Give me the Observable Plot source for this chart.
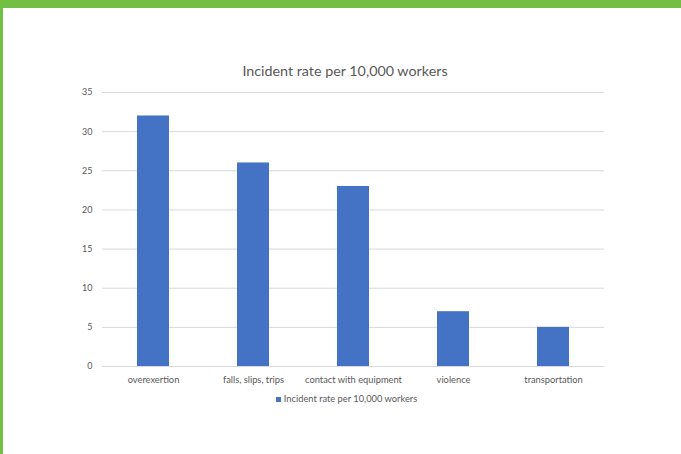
<!DOCTYPE html>
<html>
<head>
<meta charset="utf-8">
<script src="https://cdn.jsdelivr.net/npm/d3@7"></script>
<script src="https://cdn.jsdelivr.net/npm/@observablehq/plot@0.6"></script>
<style>
  html, body { margin: 0; padding: 0; background: #fff; }
  #wrap {
    width: 678px; height: 446px;
    border-top: 8px solid #72BF44; border-left: 3px solid #72BF44;
    background: #fff; font-family: Lato, "Open Sans", sans-serif; color: #595959;
    overflow: hidden;
  }
  #title {
    height: 18px; padding-top: 54px; line-height: 18px;
    font-size: 14.3px; text-align: center; padding-left: 6px;
  }
  #chart svg { display: block; }
  #legend {
    height: 16px; line-height: 16px; font-size: 9.3px;
    display: flex; justify-content: center; align-items: center; padding-left: 9px;
  }
  #legend .sw { width: 5px; height: 5px; margin-right: 3px; }
</style>
</head>
<body>
<div id="wrap">
  <div id="title"></div>
  <div id="chart"></div>
  <div id="legend"></div>
</div>
<script>
const categories = ["overexertion", "falls, slips, trips", "contact with equipment", "violence", "transportation"];
const values = [32, 26, 23, 7, 5];
const yTicks = [0, 5, 10, 15, 20, 25, 30, 35];
const seriesName = "Incident rate per 10,000 workers";
const chartTitle = "Incident rate per 10,000 workers";
const barColor = "#4472C4";

const data = categories.map((c, i) => ({category: c, value: values[i]}));

document.getElementById("title").textContent = chartTitle;

const chart = Plot.plot({
  width: 678,
  height: 311,
  marginLeft: 99,
  marginRight: 77,
  marginTop: 12,
  marginBottom: 25,
  style: {fontFamily: "Lato, 'Open Sans', sans-serif", fontSize: "9.3px", color: "#595959", background: "#fff"},
  x: {domain: categories, paddingInner: 0.684, paddingOuter: 0.342, label: null},
  y: {domain: [0, 35], label: null},
  marks: [
    Plot.gridY(yTicks, {stroke: "#d9d9d9", strokeOpacity: 1}),
    Plot.barY(data, {x: "category", y: "value", fill: barColor}),
    Plot.ruleY([0], {stroke: "#d9d9d9"}),
    Plot.axisY(yTicks, {tickSize: 0, tickPadding: 10, fontSize: 9}),
    Plot.axisX({tickSize: 0, tickPadding: 10})
  ]
});
document.getElementById("chart").appendChild(chart);

const legend = document.getElementById("legend");
const sw = document.createElement("span");
sw.className = "sw";
sw.style.background = barColor;
legend.appendChild(sw);
const lt = document.createElement("span");
lt.textContent = seriesName;
legend.appendChild(lt);
</script>
</body>
</html>
